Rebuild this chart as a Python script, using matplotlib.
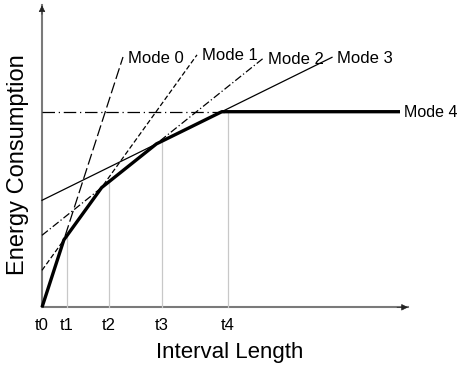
import matplotlib

matplotlib.use("Agg")

import matplotlib.pyplot as plt
import numpy as np


# interval boundaries (arbitrary units along the interval-length axis)
t_names = ["t0", "t1", "t2", "t3", "t4"]
t_pos = [0, 25, 67, 120, 186]

# each mode: energy = base + slope * length
mode_names = ["Mode 0", "Mode 1", "Mode 2", "Mode 3", "Mode 4"]
mode_base = [0, 37, 72, 107, 195.6]
mode_slope = [3.09, 1.39, 0.80, 0.493, 0.0]
mode_end = [81, 155, 221, 290, 186]
mode_dash = [(0, (9, 3)), (0, (4, 2)), (0, (6, 2, 1, 2)), "-", (0, (10, 3, 1, 3))]

# heavy lower envelope runs a bit past t4 on the flat mode
env_end = 358
x_axis_end = 366
y_axis_end = 302


def mode_energy(i, x):
    return mode_base[i] + mode_slope[i] * x


def main():
    plt.rcParams["font.family"] = ["Liberation Sans", "DejaVu Sans"]

    fig = plt.figure(figsize=(4.59, 3.69), dpi=100)
    ax = fig.add_axes([0, 0, 1, 1])
    ax.set_xlim(-42, 417)
    ax.set_ylim(-61.7, 307.3)
    ax.axis("off")

    # axes with arrows
    axis_col = "#7a7a7a"
    for end in [(x_axis_end, 0), (0, y_axis_end)]:
        ax.plot([0, end[0]], [0, end[1]], color=axis_col, lw=1.5, zorder=1)
        ax.annotate("", xy=end, xytext=(end[0] * 0.97, end[1] * 0.97),
                    arrowprops=dict(arrowstyle="-|>", color="#222222", lw=0.5,
                                    mutation_scale=10, shrinkA=0, shrinkB=0))

    # lower envelope
    xs = np.linspace(0, env_end, 2000)
    env = np.min([mode_energy(i, xs) for i in range(len(mode_names))], axis=0)

    # thin gray guides at interval boundaries
    for t in t_pos[1:]:
        top = np.min([mode_energy(i, t) for i in range(len(mode_names))])
        ax.plot([t, t], [0, top], color="#c8c8c8", lw=0.9, zorder=1)

    for name, t in zip(t_names, t_pos):
        ax.text(t, -18, name, ha="center", va="center", fontsize=12)

    # mode lines
    for i, name in enumerate(mode_names):
        x = np.array([0, mode_end[i]])
        ax.plot(x, mode_energy(i, x), color="black", lw=0.9,
                linestyle=mode_dash[i], zorder=2)
        if i < 4:
            ax.text(mode_end[i] + 5, mode_energy(i, mode_end[i]) - 1, name,
                    ha="left", va="center", fontsize=12)
        else:
            ax.text(env_end + 4, mode_base[i] - 0.5, name,
                    ha="left", va="center", fontsize=11.5)

    ax.plot(xs, env, color="black", lw=2.4, solid_capstyle="butt", zorder=3)

    ax.text(-24, 143, "Energy Consumption", rotation=90, ha="center",
            va="center", fontsize=17)
    ax.text(188, -45, "Interval Length", ha="center", va="center", fontsize=16)

    fig.savefig("out.png", dpi=100)
    plt.close(fig)


if __name__ == "__main__":
    main()
